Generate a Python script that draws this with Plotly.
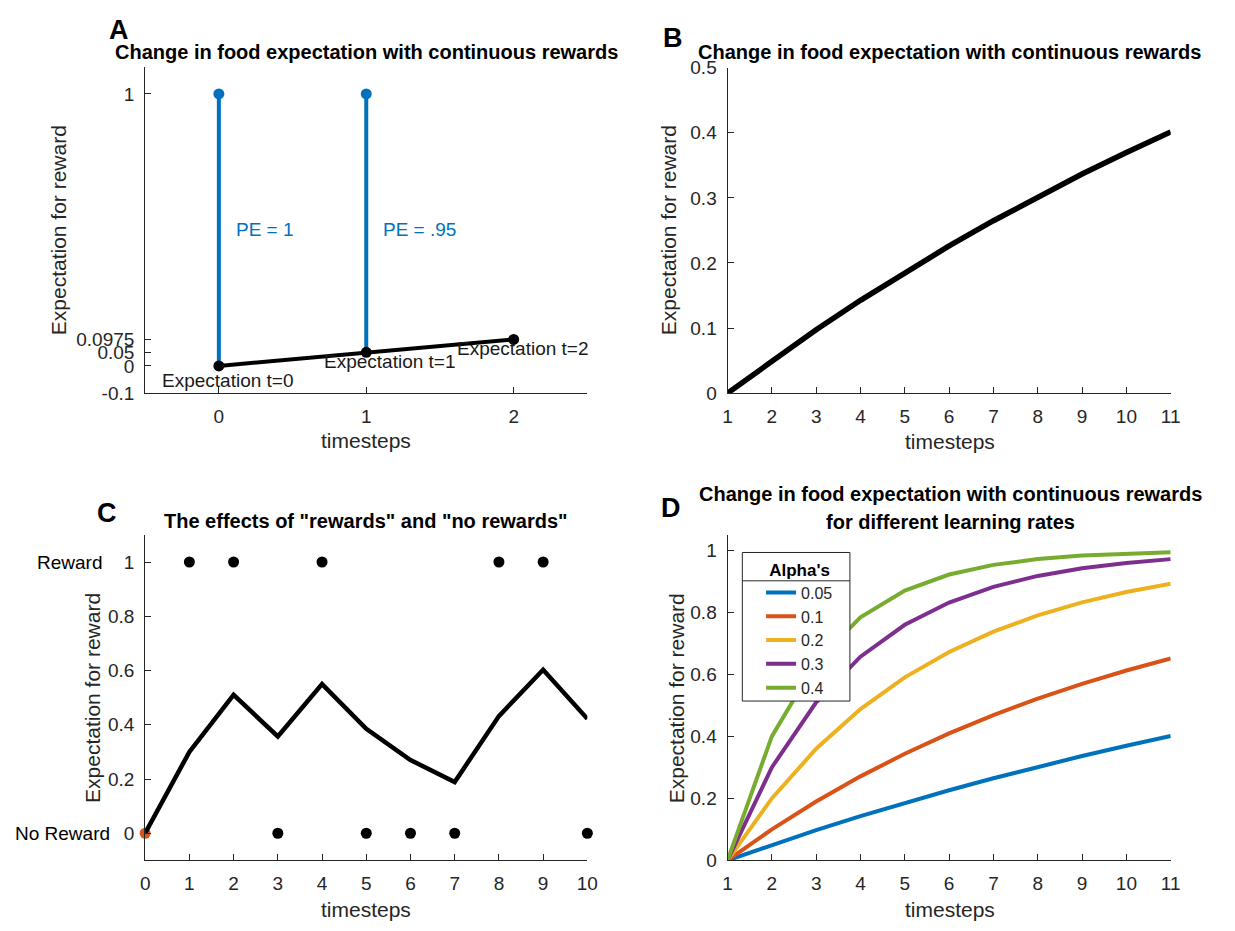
import plotly.graph_objects as go

# ---------------- data ----------------
# Panel A
a_time = [0, 1, 2]
a_expect = [0, 0.05, 0.0975]
a_stem_time = [0, 1]
a_stem_low = [0, 0.05]
a_stem_high = [1, 1]
a_pe_labels = ["PE = 1", "PE = .95"]
a_yticks = [-0.1, 0, 0.05, 0.0975, 1]
a_xticks = [0, 1, 2]

# Panel B
b_time = [1, 2, 3, 4, 5, 6, 7, 8, 9, 10, 11]
b_expect = [0, 0.05, 0.0975, 0.1426, 0.1855, 0.2262, 0.2649, 0.3017, 0.3366, 0.3698, 0.4013]

# Panel C
c_time = [0, 1, 2, 3, 4, 5, 6, 7, 8, 9, 10]
c_expect = [0, 0.30, 0.51, 0.357, 0.55, 0.385, 0.27, 0.189, 0.432, 0.603, 0.422]
c_outcome_time = [1, 2, 3, 4, 5, 6, 7, 8, 9, 10]
c_outcome = [1, 1, 0, 1, 0, 0, 0, 1, 1, 0]

# Panel D
d_time = [1, 2, 3, 4, 5, 6, 7, 8, 9, 10, 11]
d_alpha_labels = ["0.05", "0.1", "0.2", "0.3", "0.4"]
d_alpha_005 = [0, 0.05, 0.0975, 0.1426, 0.1855, 0.2262, 0.2649, 0.3017, 0.3366, 0.3698, 0.4013]
d_alpha_01 = [0, 0.10, 0.19, 0.271, 0.3439, 0.4095, 0.4686, 0.5217, 0.5695, 0.6126, 0.6513]
d_alpha_02 = [0, 0.20, 0.36, 0.488, 0.5904, 0.6723, 0.7379, 0.7903, 0.8322, 0.8658, 0.8926]
d_alpha_03 = [0, 0.30, 0.51, 0.657, 0.7599, 0.8319, 0.8824, 0.9176, 0.9424, 0.9596, 0.9718]
d_alpha_04 = [0, 0.40, 0.64, 0.784, 0.8704, 0.9222, 0.9533, 0.9720, 0.9832, 0.9899, 0.9940]
d_colors = ["#0072BD", "#D95319", "#EDB120", "#7E2F8E", "#77AC30"]

# ---------------- style ----------------
W, H = 1235, 931
FONT = "Liberation Sans, Arial, sans-serif"
AX = "#262626"
TICK_SIZE = 19
LABEL_SIZE = 21
TITLE_SIZE = 20
LEG_SIZE = 16

def px_x(p):
    return p / W

def px_y(p):
    return 1 - p / H

fig = go.Figure()

# Panel A traces
stem_x, stem_y = [], []
for t, lo, hi in zip(a_stem_time, a_stem_low, a_stem_high):
    stem_x += [t, t, None]
    stem_y += [lo, hi, None]
fig.add_trace(go.Scatter(x=stem_x, y=stem_y, mode="lines",
                         line=dict(color="#0072BD", width=4),
                         showlegend=False, xaxis="x", yaxis="y"))
fig.add_trace(go.Scatter(x=a_stem_time, y=a_stem_high, mode="markers",
                         marker=dict(color="#0072BD", size=11),
                         showlegend=False, xaxis="x", yaxis="y"))
fig.add_trace(go.Scatter(x=a_time, y=a_expect, mode="lines+markers",
                         line=dict(color="black", width=4),
                         marker=dict(color="black", size=11),
                         showlegend=False, xaxis="x", yaxis="y", cliponaxis=False))

# Panel B
fig.add_trace(go.Scatter(x=b_time, y=b_expect, mode="lines",
                         line=dict(color="black", width=5.5),
                         showlegend=False, xaxis="x2", yaxis="y2", cliponaxis=False))

# Panel C
fig.add_trace(go.Scatter(x=c_outcome_time, y=c_outcome, mode="markers",
                         marker=dict(color="black", size=11),
                         showlegend=False, xaxis="x3", yaxis="y3", cliponaxis=False))
fig.add_trace(go.Scatter(x=[c_time[0]], y=[c_expect[0]], mode="markers",
                         marker=dict(color="#D95319", size=11),
                         showlegend=False, xaxis="x3", yaxis="y3", cliponaxis=False))
fig.add_trace(go.Scatter(x=c_time, y=c_expect, mode="lines",
                         line=dict(color="black", width=4.5),
                         showlegend=False, xaxis="x3", yaxis="y3", cliponaxis=False))

# Panel D
for lab, vals, col in zip(d_alpha_labels,
                          [d_alpha_005, d_alpha_01, d_alpha_02, d_alpha_03, d_alpha_04],
                          d_colors):
    fig.add_trace(go.Scatter(x=d_time, y=vals, mode="lines", name=lab,
                             line=dict(color=col, width=4),
                             showlegend=True, xaxis="x4", yaxis="y4", cliponaxis=False))

axis_common = dict(showline=True, linecolor=AX, linewidth=1, ticks="inside",
                   ticklen=6, tickcolor=AX, tickwidth=1, showgrid=False,
                   zeroline=False, mirror=False,
                   tickfont=dict(family=FONT, size=TICK_SIZE, color=AX),
                   ticklabelstandoff=6)

dom_left = [px_x(142), px_x(590)]
dom_right = [px_x(732), px_x(1181)]
dom_top = [px_y(392), px_y(58)]
dom_top_b = [px_y(392), px_y(59)]
dom_bot = [px_y(870), px_y(537)]

fig.update_layout(
    width=W, height=H,
    margin=dict(l=0, r=0, t=0, b=0),
    paper_bgcolor="white", plot_bgcolor="white",
    font=dict(family=FONT, color=AX),
    xaxis=dict(domain=dom_left, range=[-0.5, 2.5], tickvals=a_xticks,
               anchor="y", **axis_common),
    yaxis=dict(domain=dom_top, range=[-0.1, 1.1], tickvals=a_yticks,
               ticktext=[str(v) for v in a_yticks], anchor="x", **axis_common),
    xaxis2=dict(domain=dom_right, range=[1, 11], tickvals=b_time,
                anchor="y2", **axis_common),
    yaxis2=dict(domain=dom_top_b, range=[0, 0.5], tickvals=[0, 0.1, 0.2, 0.3, 0.4, 0.5],
                anchor="x2", **axis_common),
    xaxis3=dict(domain=dom_left, range=[0, 10], tickvals=c_time,
                anchor="y3", **axis_common),
    yaxis3=dict(domain=dom_bot, range=[-0.1, 1.1], tickvals=[0, 0.2, 0.4, 0.6, 0.8, 1],
                ticktext=["0", "0.2", "0.4", "0.6", "0.8", "1"], anchor="x3", **axis_common),
    xaxis4=dict(domain=dom_right, range=[1, 11], tickvals=d_time,
                anchor="y4", **axis_common),
    yaxis4=dict(domain=dom_bot, range=[0, 1.05], tickvals=[0, 0.2, 0.4, 0.6, 0.8, 1],
                ticktext=["0", "0.2", "0.4", "0.6", "0.8", "1"], anchor="x4", **axis_common),
    legend=dict(x=px_x(766), y=px_y(556), xanchor="left", yanchor="top",
                borderwidth=0, bgcolor="rgba(0,0,0,0)",
                font=dict(family=FONT, size=LEG_SIZE, color=AX),
                title=dict(text="<b>Alpha's</b>", side="top center",
                           font=dict(family=FONT, size=17, color="black")),
                tracegroupgap=0, itemwidth=30),
)

ann = []

def add_text(text, x, y, size, xref="paper", yref="paper", bold=False, color="black",
             xanchor="center", yanchor="middle", angle=0):
    ann.append(dict(text=("<b>%s</b>" % text) if bold else text, x=x, y=y,
                    xref=xref, yref=yref, showarrow=False, xanchor=xanchor,
                    yanchor=yanchor, textangle=angle,
                    font=dict(family=FONT, size=size, color=color)))

# panel letters
add_text("A", px_x(116), px_y(20), 27, bold=True)
add_text("B", px_x(677), px_y(29), 27, bold=True)
add_text("C", px_x(103), px_y(515), 27, bold=True)
add_text("D", px_x(675), px_y(510), 27, bold=True)

# titles
t_main = "Change in food expectation with continuous rewards"
add_text(t_main, px_x(366), px_y(43), TITLE_SIZE, bold=True)
add_text(t_main, px_x(957), px_y(43), TITLE_SIZE, bold=True)
add_text('The effects of "rewards" and "no rewards"', px_x(366), px_y(523), TITLE_SIZE, bold=True)
add_text(t_main, px_x(958), px_y(495), TITLE_SIZE, bold=True)
add_text("for different learning rates", px_x(958), px_y(524), TITLE_SIZE, bold=True)

# axis labels
for cx, cy in [(366, 440), (957, 441), (366, 920), (957, 920)]:
    add_text("timesteps", px_x(cx), px_y(cy), LABEL_SIZE, color=AX)
for cx, cy in [(55, 225), (673, 225), (88, 704), (680, 704)]:
    add_text("Expectation for reward", px_x(cx), px_y(cy), LABEL_SIZE, color=AX, angle=-90)

# Panel A text
add_text(a_pe_labels[0], 0.1, 0.5, TICK_SIZE, xref="x", yref="y", color="#0072BD", xanchor="left")
add_text(a_pe_labels[1], 1.1, 0.5, TICK_SIZE, xref="x", yref="y", color="#0072BD", xanchor="left")
add_text("Expectation t=0", -0.4, -0.053, TICK_SIZE, xref="x", yref="y", color="#1a1a1a", xanchor="left")
add_text("Expectation t=1", 0.7, 0.015, TICK_SIZE, xref="x", yref="y", color="#1a1a1a", xanchor="left")
add_text("Expectation t=2", 1.6, 0.066, TICK_SIZE, xref="x", yref="y", color="#1a1a1a", xanchor="left")

# Panel C side labels (outside the axis range, so placed on paper x)
add_text("Reward", px_x(30), 1, TICK_SIZE, xref="paper", yref="y3", color="black", xanchor="left")
add_text("No Reward", px_x(8), 0, TICK_SIZE, xref="paper", yref="y3", color="black", xanchor="left")

fig.update_layout(annotations=ann)

# legend frame (white box above the curves, below the legend) and title separator
fig.add_shape(type="rect", xref="paper", yref="paper", layer="above",
              x0=px_x(747), x1=px_x(856), y0=px_y(707), y1=px_y(555),
              fillcolor="white", line=dict(color=AX, width=1))
fig.add_shape(type="line", xref="paper", yref="paper", layer="above",
              x0=px_x(747), x1=px_x(856), y0=px_y(584), y1=px_y(584),
              line=dict(color=AX, width=1))

fig.write_html("out.html")
